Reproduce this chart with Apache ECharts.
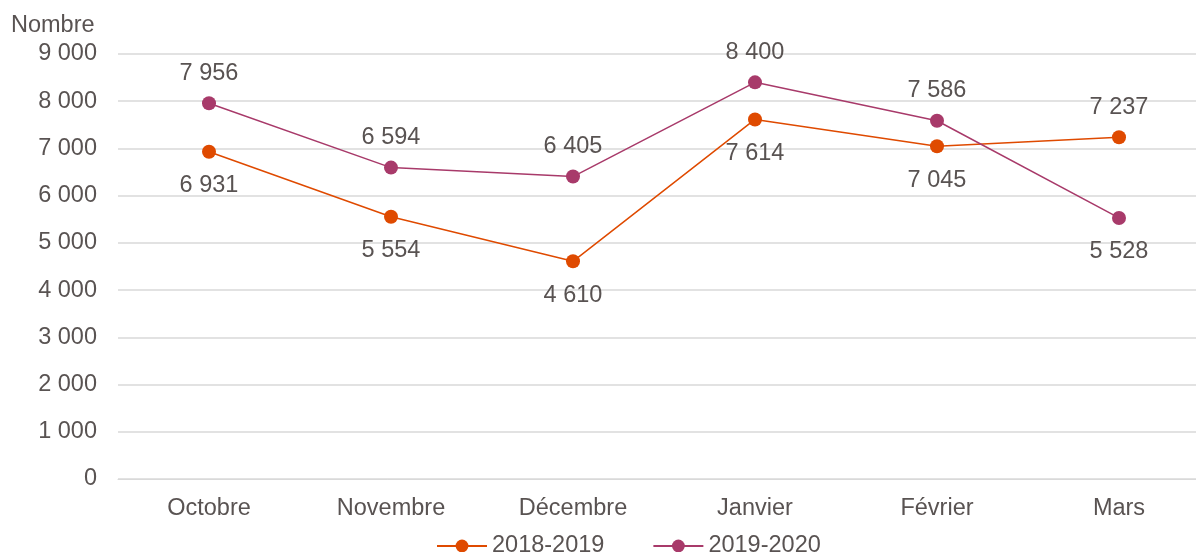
<!DOCTYPE html>
<html>
<head>
<meta charset="utf-8">
<script src="https://cdn.jsdelivr.net/npm/echarts@6/dist/echarts.min.js"></script>
<style>
html, body { margin: 0; padding: 0; background: #fff; }
#chart { width: 1196px; height: 552px; }
</style>
</head>
<body>
<div id="chart"></div>
<script>
var months = ['Octobre', 'Novembre', 'Décembre', 'Janvier', 'Février', 'Mars'];
var names = ['2018-2019', '2019-2020'];
var s2018 = [6931, 5554, 4610, 7614, 7045, 7237];
var s2019 = [7956, 6594, 6405, 8400, 7586, 5528];
// where the value label sits for each point
var pos2018 = ['bottom', 'bottom', 'bottom', 'bottom', 'bottom', 'top'];
var pos2019 = ['top', 'top', 'top', 'top', 'top', 'bottom'];
var colors = ['#DF4A00', '#A83A6A'];
var txt = '#595352';
var fs = 23.5;

function fmt(v) {
	return String(v).replace(/\B(?=(\d{3})+(?!\d))/g, ' ');
}

function mkdata(vals, pos) {
	var out = [];
	for (var i = 0; i < vals.length; i++) {
		out.push({ value: vals[i], label: { position: pos[i], distance: pos[i] == 'top' ? 11 : 15 } });
	}
	return out;
}

function mkseries(name, vals, pos, color) {
	return {
		name: name,
		type: 'line',
		data: mkdata(vals, pos),
		symbol: 'circle',
		symbolSize: 14,
		lineStyle: { color: color, width: 1.5 },
		itemStyle: { color: color },
		label: {
			show: true,
			color: txt,
			fontSize: fs,
			formatter: function (p) { return fmt(p.value); }
		}
	};
}

var option = {
	animation: false,
	textStyle: { fontFamily: 'Liberation Sans, Arial, sans-serif' },
	color: colors,
	title: {
		text: 'Nombre',
		left: 6,
		top: 9,
		textStyle: { color: txt, fontSize: fs, fontWeight: 'normal' }
	},
	grid: { left: 118, width: 1092, top: 54, bottom: 73, containLabel: false, outerBoundsMode: 'none' },
	legend: {
		top: 529,
		left: 431,
		itemGap: 48,
		itemWidth: 50,
		itemHeight: 16,
		textStyle: { color: txt, fontSize: fs },
		data: names
	},
	xAxis: {
		type: 'category',
		data: months,
		axisLine: { lineStyle: { color: '#d9d9d9' } },
		axisTick: { show: false },
		axisLabel: { color: txt, fontSize: fs, margin: 18 }
	},
	yAxis: {
		type: 'value',
		min: 0,
		max: 9000,
		interval: 1000,
		axisLabel: { color: txt, fontSize: fs, margin: 21, formatter: function (v) { return fmt(v); } },
		splitLine: { lineStyle: { color: '#d9d9d9', width: 1.5 } }
	},
	series: [
		mkseries(names[0], s2018, pos2018, colors[0]),
		mkseries(names[1], s2019, pos2019, colors[1])
	]
};

var myChart = echarts.init(document.getElementById('chart'));
myChart.setOption(option);
</script>
</body>
</html>
